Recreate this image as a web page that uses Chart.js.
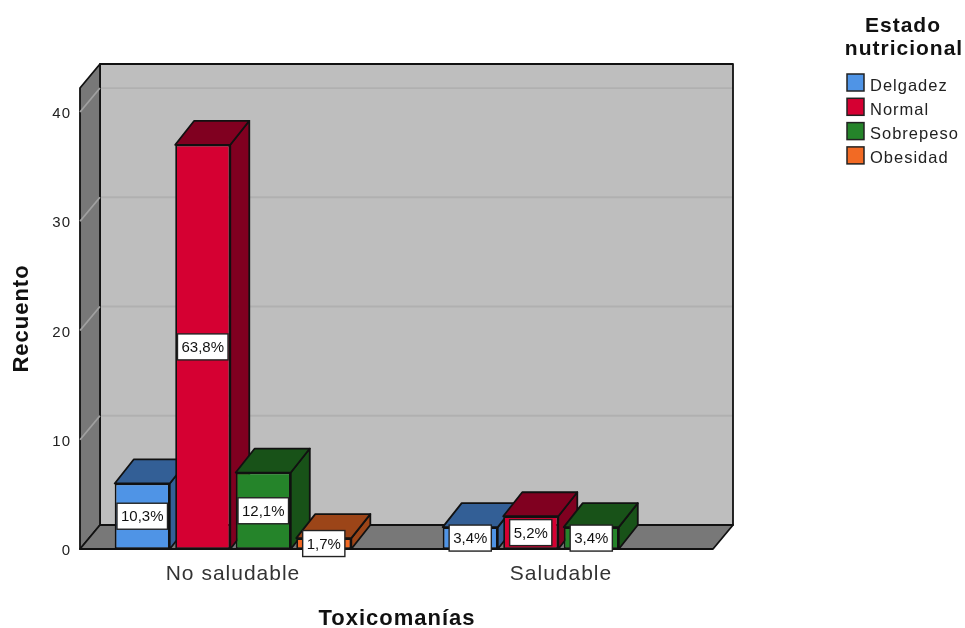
<!DOCTYPE html>
<html>
<head>
<meta charset="utf-8">
<title>Toxicomanías</title>
<script src="https://cdn.jsdelivr.net/npm/chart.js@4/dist/chart.umd.js"></script>
<style>
  body { margin: 0; background: #fff; }
  canvas { display: block; }
</style>
</head>
<body>
<canvas id="myChart" width="965" height="628"></canvas>
<script>
const categorias = ["No saludable", "Saludable"];
const series = ["Delgadez", "Normal", "Sobrepeso", "Obesidad"];
const delgadez = [6, 2];
const normal = [37, 3];
const sobrepeso = [7, 2];
const obesidad = [1, null];
const pctDelgadez = ["10,3%", "3,4%"];
const pctNormal = ["63,8%", "5,2%"];
const pctSobrepeso = ["12,1%", "3,4%"];
const pctObesidad = ["1,7%", null];
const marcasY = [0, 10, 20, 30, 40];

const coloresFrente = ["#4f94e6", "#d50032", "#25842a", "#f26a24"];
const coloresSombra = ["#335f96", "#800020", "#185218", "#9c4518"];
const porcentajes = [pctDelgadez, pctNormal, pctSobrepeso, pctObesidad];

// profundidad de la caja y de las barras
const fondoX = 20, fondoY = 24, barraX = 19, barraY = 24;

const caja3d = {
    id: "caja3d",
    afterLayout(chart) {
        // las etiquetas de y pasan un poco del area del eje y se recortaban
        chart.scales.y.right = chart.scales.y.right + 4;
    },
    beforeDraw(chart) {
        chart.ctx.letterSpacing = "1px";
    },
    beforeDatasetsDraw(chart) {
        const ctx = chart.ctx;
        const area = chart.chartArea;
        const izq = area.left + 11, der = area.right - 12;
        const abajo = area.bottom, arriba = area.top;

        ctx.save();
        ctx.lineWidth = 1.8;
        ctx.strokeStyle = "#111";
        ctx.lineJoin = "round";

        // pared del fondo
        ctx.fillStyle = "#bebebe";
        ctx.fillRect(izq + fondoX, arriba - fondoY, der - izq, abajo - arriba);

        // lineas de la escala
        marcasY.forEach(v => {
            const y = chart.scales.y.getPixelForValue(v);
            if (v > 0) {
                ctx.beginPath();
                ctx.moveTo(izq + fondoX, y - fondoY);
                ctx.lineTo(der + fondoX, y - fondoY);
                ctx.strokeStyle = "#b0b0b0";
                ctx.stroke();
            }
        });
        ctx.strokeStyle = "#111";
        ctx.strokeRect(izq + fondoX, arriba - fondoY, der - izq, abajo - arriba);

        // pared izquierda y piso
        poligono(ctx, [[izq, abajo], [izq, arriba], [izq + fondoX, arriba - fondoY], [izq + fondoX, abajo - fondoY]], "#787878");
        poligono(ctx, [[izq, abajo], [der, abajo], [der + fondoX, abajo - fondoY], [izq + fondoX, abajo - fondoY]], "#787878");

        marcasY.forEach(v => {
            const y = chart.scales.y.getPixelForValue(v);
            if (v > 0) {
                ctx.beginPath();
                ctx.moveTo(izq, y);
                ctx.lineTo(izq + fondoX, y - fondoY);
                ctx.strokeStyle = "#a0a0a0";
                ctx.stroke();
            }
        });
        ctx.strokeStyle = "#111";

        // tapa y lado de cada barra
        chart.data.datasets.forEach((ds, i) => {
            chart.getDatasetMeta(i).data.forEach((barra, j) => {
                if (ds.data[j] === null) return;
                const x1 = barra.x - barra.width / 2, x2 = barra.x + barra.width / 2;
                const yTop = barra.y, yBase = barra.base;
                poligono(ctx, [[x2, yTop], [x2, yBase], [x2 + barraX, yBase - barraY], [x2 + barraX, yTop - barraY]], coloresSombra[i]);
                poligono(ctx, [[x1, yTop], [x2, yTop], [x2 + barraX, yTop - barraY], [x1 + barraX, yTop - barraY]], coloresSombra[i]);
            });
        });
        ctx.restore();
    },
    afterDatasetsDraw(chart) {
        const ctx = chart.ctx;
        ctx.save();
        ctx.letterSpacing = "0px";
        ctx.font = "15px 'Liberation Sans'";
        ctx.textAlign = "center";
        ctx.textBaseline = "middle";
        chart.data.datasets.forEach((ds, i) => {
            chart.getDatasetMeta(i).data.forEach((barra, j) => {
                const texto = porcentajes[i][j];
                if (!texto) return;
                const yc = (barra.y + barra.base) / 2;
                const ancho = ctx.measureText(texto).width + 8;
                ctx.fillStyle = "#fff";
                ctx.fillRect(barra.x - ancho / 2, yc - 13, ancho, 26);
                ctx.strokeStyle = "#222";
                ctx.lineWidth = 1.4;
                ctx.strokeRect(barra.x - ancho / 2, yc - 13, ancho, 26);
                ctx.fillStyle = "#111";
                ctx.fillText(texto, barra.x, yc + 1);
            });
        });
        ctx.restore();

        // leyenda
        ctx.save();
        ctx.letterSpacing = "1px";
        ctx.fillStyle = "#111";
        ctx.font = "bold 21px 'Liberation Sans'";
        ctx.textAlign = "center";
        ctx.textBaseline = "middle";
        ctx.fillText("Estado", 903, 26);
        ctx.fillText("nutricional", 904, 49);
        ctx.font = "16.5px 'Liberation Sans'";
        ctx.textAlign = "left";
        series.forEach((nombre, i) => {
            const y = 74 + i * 24.3;
            ctx.fillStyle = coloresFrente[i];
            ctx.fillRect(847, y, 17, 17);
            ctx.strokeStyle = "#222";
            ctx.lineWidth = 1.5;
            ctx.strokeRect(847, y, 17, 17);
            ctx.fillStyle = "#222";
            ctx.fillText(nombre, 870, y + 12);
        });
        ctx.restore();
    }
};

function poligono(ctx, puntos, color) {
    ctx.beginPath();
    puntos.forEach((p, i) => i ? ctx.lineTo(p[0], p[1]) : ctx.moveTo(p[0], p[1]));
    ctx.closePath();
    ctx.fillStyle = color;
    ctx.fill();
    ctx.stroke();
}

const datos = [delgadez, normal, sobrepeso, obesidad];

new Chart("myChart", {
    type: "bar",
    plugins: [caja3d],
    data: {
        labels: categorias,
        datasets: series.map((nombre, i) => ({
            label: nombre,
            data: datos[i],
            backgroundColor: coloresFrente[i],
            borderColor: "#111",
            borderWidth: 1.8,
            borderSkipped: false,
            categoryPercentage: 0.738,
            barPercentage: 0.91
        }))
    },
    options: {
        responsive: false,
        animation: false,
        layout: { padding: { left: 0, top: 88, right: 240, bottom: 0 } },
        plugins: {
            legend: { display: false },
            tooltip: { enabled: false }
        },
        scales: {
            x: {
                grid: { display: false },
                border: { display: false },
                ticks: { color: "#333", padding: 5, font: { family: "'Liberation Sans'", size: 21 } },
                title: {
                    display: true,
                    text: "Toxicomanías",
                    color: "#111",
                    padding: 0,
                    font: { family: "'Liberation Sans'", size: 22, weight: "bold", lineHeight: 0.8 }
                },
                afterFit(scale) { scale.height = 79; }
            },
            y: {
                min: 0,
                max: 42.2,
                grid: { display: false, drawTicks: false },
                border: { display: false },
                afterBuildTicks(scale) { scale.ticks = marcasY.map(v => ({ value: v })); },
                ticks: { color: "#222", padding: 2, labelOffset: 2, font: { family: "'Liberation Sans'", size: 15 } },
                title: {
                    display: true,
                    text: "Recuento",
                    color: "#111",
                    padding: 11,
                    font: { family: "'Liberation Sans'", size: 22, weight: "bold", lineHeight: 1 }
                },
                afterFit(scale) { scale.width = 69; }
            }
        }
    }
});
</script>
</body>
</html>
